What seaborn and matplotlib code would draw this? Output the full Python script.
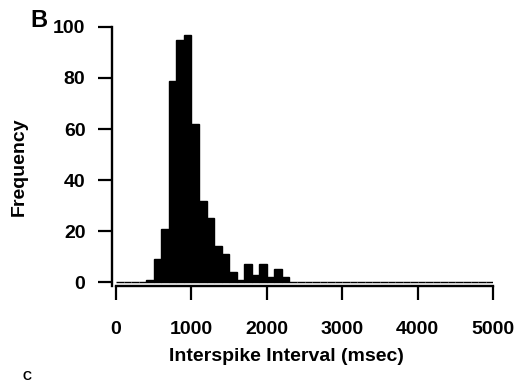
import numpy as np
import pandas as pd
import matplotlib
matplotlib.use("Agg")
import matplotlib.pyplot as plt
import seaborn as sns

# Interspike-interval histogram, 100 ms bins (left edges in ms) and counts
bin_left = [400, 500, 600, 700, 800, 900, 1000, 1100, 1200, 1300, 1400,
            1500, 1600, 1700, 1800, 1900, 2000, 2100, 2200]
counts = [1, 9, 21, 79, 95, 97, 62, 32, 25, 14, 11,
          4, 1, 7, 3, 7, 2, 5, 2]
bin_width = 100
x_range = (0, 5000)
x_ticks = [0, 1000, 2000, 3000, 4000, 5000]
y_ticks = [0, 20, 40, 60, 80, 100]

df = pd.DataFrame({"isi": np.array(bin_left, dtype=float) + bin_width / 2,
                   "n": np.array(counts, dtype=float)})

sns.set_style("ticks")
plt.rcParams["font.family"] = ["Liberation Sans", "DejaVu Sans"]
plt.rcParams["font.weight"] = "bold"
plt.rcParams["text.color"] = "black"
plt.rcParams["axes.labelcolor"] = "black"

fig = plt.figure(figsize=(5.18, 3.84), dpi=100)
ax = fig.add_axes([0.224, 0.255, 0.728, 0.675])

sns.histplot(data=df, x="isi", weights="n", binwidth=bin_width,
             binrange=x_range, ax=ax,
             color="black", edgecolor="black", linewidth=1.0, alpha=1.0)

ax.set_xlim(*x_range)
ax.set_ylim(-1.5, 100)
ax.set_xticks(x_ticks)
ax.set_yticks(y_ticks)
ax.tick_params(axis="both", direction="out", length=10, width=1.6,
               labelsize=14, colors="black")
ax.tick_params(axis="y", pad=9)
ax.tick_params(axis="x", pad=15)
for lab in ax.get_xticklabels() + ax.get_yticklabels():
    lab.set_fontweight("bold")

for s in ["top", "right"]:
    ax.spines[s].set_visible(False)
for s in ["left", "bottom"]:
    ax.spines[s].set_linewidth(1.7)
    ax.spines[s].set_color("black")
ax.spines["left"].set_position(("outward", 3))
ax.spines["left"].set_bounds(-1.5, 100)

ax.set_xlabel("Interspike Interval (msec)", fontsize=14, fontweight="bold",
              color="black")
ax.set_ylabel("Frequency", fontsize=14, fontweight="bold", color="black")
ax.xaxis.set_label_coords(0.451, -0.24)
ax.yaxis.set_label_coords(-0.235, 0.46)

fig.text(0.058, 0.917, "B", fontsize=17, fontweight="bold", color="black",
         ha="left", va="bottom")
fig.text(0.044, 0.002, "C", fontsize=9, fontweight="bold", color="black",
         ha="left", va="bottom")

fig.savefig("out.png", dpi=100)
